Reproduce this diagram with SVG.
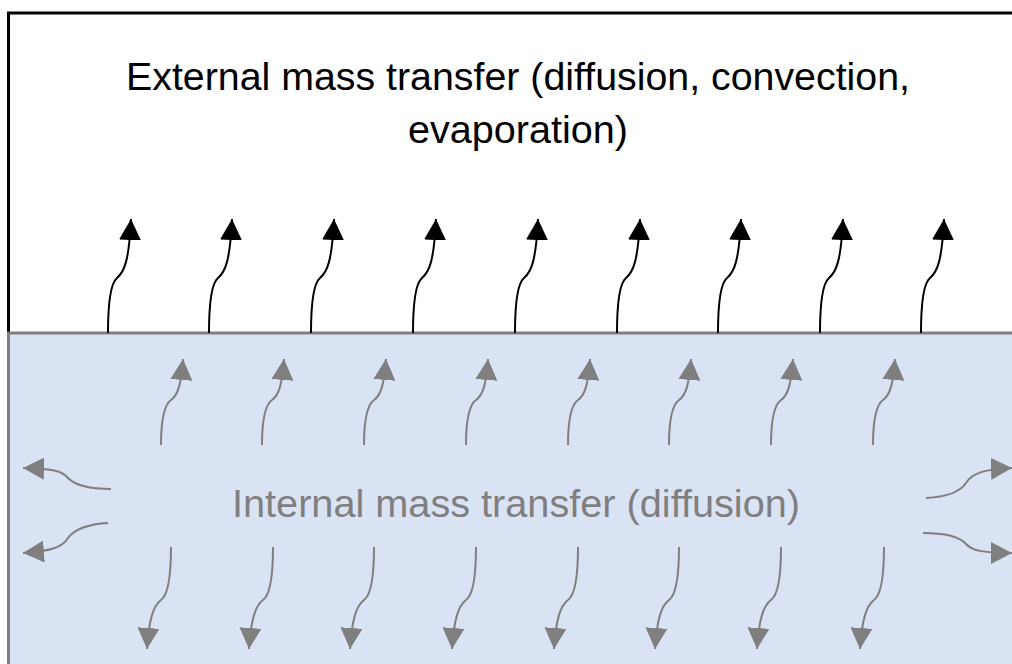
<svg xmlns="http://www.w3.org/2000/svg" width="1012" height="664" viewBox="0 0 1012 664">
  <style>
    .ext { fill: none; stroke: #000; stroke-width: 2; }
    .int { fill: none; stroke: #7f7f7f; stroke-width: 2; }
    .t { font-family: "Liberation Sans", Arial, sans-serif; font-size: 38px; text-anchor: middle; }
  </style>
  <defs>
    <marker id="hb" viewBox="-21 -11 21 22" refX="0" refY="0" markerWidth="21" markerHeight="22" markerUnits="userSpaceOnUse" orient="auto">
      <path d="M0,0 L-21,-11 L-21,11 Z" fill="#000"/>
    </marker>
    <marker id="hg" viewBox="-21 -11 21 22" refX="0" refY="0" markerWidth="21" markerHeight="22" markerUnits="userSpaceOnUse" orient="auto">
      <path d="M0,0 L-21,-11 L-21,11 Z" fill="#7f7f7f"/>
    </marker>
  </defs>
  <rect width="1012" height="664" fill="#fff"/>
  <g id="external">
    <path d="M8.5,335 L8.5,13 L1014,13" fill="none" stroke="#000" stroke-width="3"/>
    <text class="t" x="518" y="90" fill="#000" textLength="784" lengthAdjust="spacingAndGlyphs">External mass transfer (diffusion, convection,</text>
    <text class="t" x="518" y="143" fill="#000" textLength="220" lengthAdjust="spacingAndGlyphs">evaporation)</text>
  </g>
  <g id="internal">
    <rect x="8.5" y="333" width="1010" height="340" fill="#dae3f3" stroke="#7f7f7f" stroke-width="3"/>
    <text class="t" x="516" y="517" fill="#7f7f7f" textLength="568" lengthAdjust="spacingAndGlyphs">Internal mass transfer (diffusion)</text>
  </g>
  <g id="connectors">
    <g class="ext" marker-end="url(#hb)">
      <path d="M108,333 C108,300 111,283 117,278 C124,272 129,262 131,219"/>
      <path d="M209,333 C209,300 212,283 218,278 C225,272 230,262 232,219"/>
      <path d="M311,333 C311,300 314,283 320,278 C327,272 332,262 334,219"/>
      <path d="M413,333 C413,300 416,283 422,278 C429,272 434,262 436,219"/>
      <path d="M515,333 C515,300 518,283 524,278 C531,272 536,262 538,219"/>
      <path d="M617,333 C617,300 620,283 626,278 C633,272 638,262 640,219"/>
      <path d="M718,333 C718,300 721,283 727,278 C734,272 739,262 741,219"/>
      <path d="M820,333 C820,300 823,283 829,278 C836,272 841,262 843,219"/>
      <path d="M921,333 C921,300 924,283 930,278 C937,272 942,262 944,219"/>
    </g>
    <g class="int" marker-end="url(#hg)">
      <path d="M161,445 C161,420 164,405 171,400 C178,395 181,385 183,359"/>
      <path d="M262,445 C262,420 265,405 272,400 C279,395 282,385 284,359"/>
      <path d="M364,445 C364,420 367,405 374,400 C381,395 384,385 386,359"/>
      <path d="M466,445 C466,420 469,405 476,400 C483,395 486,385 488,359"/>
      <path d="M568,445 C568,420 571,405 578,400 C585,395 588,385 590,359"/>
      <path d="M669,445 C669,420 672,405 679,400 C686,395 689,385 691,359"/>
      <path d="M771,445 C771,420 774,405 781,400 C788,395 791,385 793,359"/>
      <path d="M873,445 C873,420 876,405 883,400 C890,395 893,385 895,359"/>

      <path d="M171,547 C171,575 168,595 161,600 C153,606 149,620 147,649"/>
      <path d="M273,547 C273,575 270,595 263,600 C255,606 251,620 249,649"/>
      <path d="M374,547 C374,575 371,595 364,600 C356,606 352,620 350,649"/>
      <path d="M476,547 C476,575 473,595 466,600 C458,606 454,620 452,649"/>
      <path d="M578,547 C578,575 575,595 568,600 C560,606 556,620 554,649"/>
      <path d="M679,547 C679,575 676,595 669,600 C661,606 657,620 655,649"/>
      <path d="M781,547 C781,575 778,595 771,600 C763,606 759,620 757,649"/>
      <path d="M884,547 C884,575 881,595 874,600 C866,606 862,620 860,649"/>

      <path d="M111,489 C90,489 75,485 68,478 C62,471 55,469 23,468"/>
      <path d="M108,523 C88,524 74,530 68,538 C62,548 50,551 23,553"/>
      <path d="M926,498 C946,497 960,492 966,483 C972,473 985,469 1012,468"/>
      <path d="M923,533 C945,533 960,537 966,544 C972,551 985,553 1012,553"/>
    </g>
  </g>
</svg>
